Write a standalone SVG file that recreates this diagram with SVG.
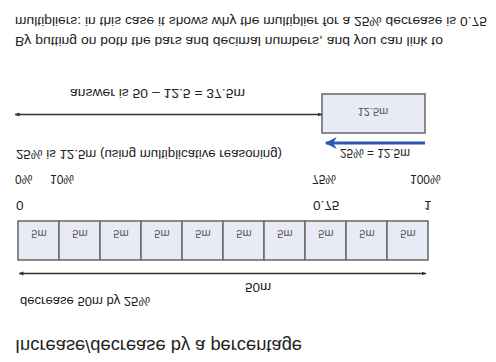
<svg xmlns="http://www.w3.org/2000/svg" width="496" height="362" viewBox="0 0 496 362">
<style>
text{font-family:"Liberation Sans",Arial,sans-serif;fill:#222}
.body{font-size:13.5px}
.small{font-size:12px}
.lbl{font-size:11px;fill:#555}
.box{fill:#e8ebf5;stroke:#6e6e6e;stroke-width:1.6}
.ar{stroke:#333;stroke-width:1.6;fill:none}
.blue{stroke:#2f56b3;stroke-width:3.2;fill:none}
</style>
<defs>
<marker id="ah" viewBox="0 0 10 10" refX="9" refY="5" markerWidth="5" markerHeight="5" orient="auto-start-reverse" markerUnits="userSpaceOnUse">
<path d="M0,1 L10,5 L0,9 Z" fill="#333"/>
</marker>
<marker id="bh" viewBox="0 0 10 10" refX="9" refY="5" markerWidth="14" markerHeight="12" orient="auto" markerUnits="userSpaceOnUse">
<path d="M0,0 L10,5 L0,10 L3,5 Z" fill="#2f56b3"/>
</marker>
</defs>
<g transform="matrix(1 0 0 -1 0 362)">
<g id="title"><text x="15" y="22" style="font-size:18px" textLength="287" lengthAdjust="spacingAndGlyphs">Increase/decrease by a percentage</text></g>
<g id="bar-label"><text class="body" x="20" y="65" textLength="130" lengthAdjust="spacingAndGlyphs">decrease 50m by 25%</text></g>
<g id="total-label"><text class="body" x="245" y="79">50m</text></g>
<g id="bar">
<rect class="box" x="18" y="102" width="41" height="39"/>
<rect class="box" x="59" y="102" width="41" height="39"/>
<rect class="box" x="100" y="102" width="41" height="39"/>
<rect class="box" x="141" y="102" width="41" height="39"/>
<rect class="box" x="182" y="102" width="41" height="39"/>
<rect class="box" x="223" y="102" width="41" height="39"/>
<rect class="box" x="264" y="102" width="41" height="39"/>
<rect class="box" x="305" y="102" width="41" height="39"/>
<rect class="box" x="346" y="102" width="41" height="39"/>
<rect class="box" x="387" y="102" width="41" height="39"/>
<g class="lbl" text-anchor="middle">
<text class="lbl" x="39" y="132">5m</text>
<text class="lbl" x="80" y="132">5m</text>
<text class="lbl" x="121" y="132">5m</text>
<text class="lbl" x="162" y="132">5m</text>
<text class="lbl" x="203" y="132">5m</text>
<text class="lbl" x="244" y="132">5m</text>
<text class="lbl" x="285" y="132">5m</text>
<text class="lbl" x="326" y="132">5m</text>
<text class="lbl" x="367" y="132">5m</text>
<text class="lbl" x="408" y="132">5m</text>
</g>
</g>
<g id="decimals">
<text class="body" x="16" y="161">0</text>
<text class="body" x="313" y="161">0.75</text>
<text class="body" x="424" y="161">1</text>
</g>
<g id="percents">
<text class="small" x="15" y="187">0%</text>
<text class="small" x="50" y="187">10%</text>
<text class="small" x="312" y="187">75%</text>
<text class="small" x="410" y="187">100%</text>
</g>
<g id="reasoning"><text class="body" x="16" y="212" textLength="266" lengthAdjust="spacingAndGlyphs">25% is 12.5m (using multiplicative reasoning)</text></g>
<g id="eq-label"><text class="small" x="340" y="213" textLength="70" lengthAdjust="spacingAndGlyphs">25% = 12.5m</text></g>
<g id="part-box">
<rect class="box" x="322" y="229" width="103" height="39"/>
<text class="lbl" x="373" y="254" text-anchor="middle">12.5m</text>
</g>
<g id="answer"><text class="body" x="70" y="273" textLength="175" lengthAdjust="spacingAndGlyphs">answer is 50 – 12.5 = 37.5m</text></g>
<g id="explanation">
<text class="body" x="15" y="325" textLength="428" lengthAdjust="spacingAndGlyphs">By putting on both the bars and decimal numbers, and you can link to</text>
<text class="body" x="15" y="345" textLength="472" lengthAdjust="spacingAndGlyphs">multipliers: in this case it shows why the multiplier for a 25% decrease is 0.75</text>
</g>
<g id="connectors">
<line class="ar" x1="19" y1="88.5" x2="426" y2="88.5" marker-start="url(#ah)" marker-end="url(#ah)"/>
<line class="blue" x1="425" y1="219" x2="326" y2="219" marker-end="url(#bh)"/>
<line class="ar" x1="15" y1="247.5" x2="322" y2="247.5" marker-start="url(#ah)" marker-end="url(#ah)"/>
</g>
</g>
</svg>
